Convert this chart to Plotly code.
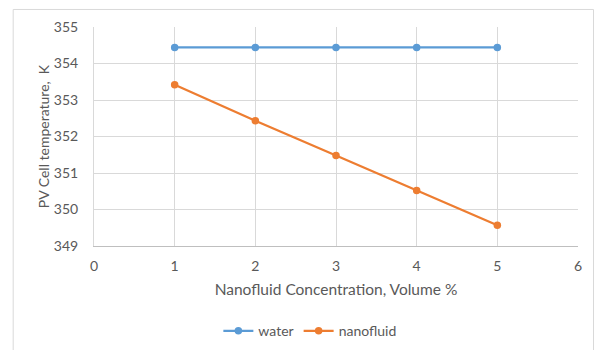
import plotly.graph_objects as go

concentration = [1, 2, 3, 4, 5]
water_temp = [354.44, 354.44, 354.44, 354.44, 354.44]
nanofluid_temp = [353.42, 352.43, 351.48, 350.52, 349.57]

x_ticks = [0, 1, 2, 3, 4, 5, 6]
y_ticks = [349, 350, 351, 352, 353, 354, 355]

FONT = "Lato, sans-serif"
TXT = "#595959"

fig = go.Figure()
fig.add_trace(go.Scatter(x=concentration, y=water_temp, name="water", mode="lines+markers",
                         line=dict(color="#5B9BD5", width=2.25),
                         marker=dict(color="#5B9BD5", size=7.5)))
fig.add_trace(go.Scatter(x=concentration, y=nanofluid_temp, name="nanofluid", mode="lines+markers",
                         line=dict(color="#ED7D31", width=2.25),
                         marker=dict(color="#ED7D31", size=7.5)))

fig.update_layout(
    width=602, height=350,
    margin=dict(l=94, r=24, t=27, b=104, autoexpand=False),
    paper_bgcolor="white", plot_bgcolor="white",
    font=dict(family=FONT, size=14, color=TXT),
    showlegend=True,
    legend=dict(orientation="h", x=0.446, xanchor="center", y=-0.389, yanchor="middle",
                font=dict(size=14, color=TXT), itemwidth=30, tracegroupgap=0),
    xaxis=dict(range=[0, 6], tickvals=x_ticks, showgrid=True, gridcolor="#D9D9D9", gridwidth=1,
               zeroline=False, showline=True, linecolor="#BFBFBF", linewidth=1, automargin=False,
               ticks="", ticklabelstandoff=7, tickfont=dict(size=14, color=TXT),
               title=dict(text="Nanofluid Concentration, Volume %", standoff=11,
                          font=dict(size=15.5, color=TXT))),
    yaxis=dict(range=[349, 355], tickvals=y_ticks, showgrid=True, gridcolor="#D9D9D9", gridwidth=1,
               zeroline=False, showline=True, linecolor="#D9D9D9", linewidth=1, automargin=False,
               ticks="", ticklabelstandoff=12, tickfont=dict(size=14, color=TXT),
               title=dict(text="PV Cell temperature,  K", standoff=0,
                          font=dict(size=14, color=TXT))),
)
fig.add_shape(type="rect", xref="paper", yref="paper", x0=-0.167, x1=1.032, y0=-0.6, y1=1.08,
              line=dict(color="#D9D9D9", width=1), fillcolor="rgba(0,0,0,0)", layer="below")
fig.write_html("out.html")
